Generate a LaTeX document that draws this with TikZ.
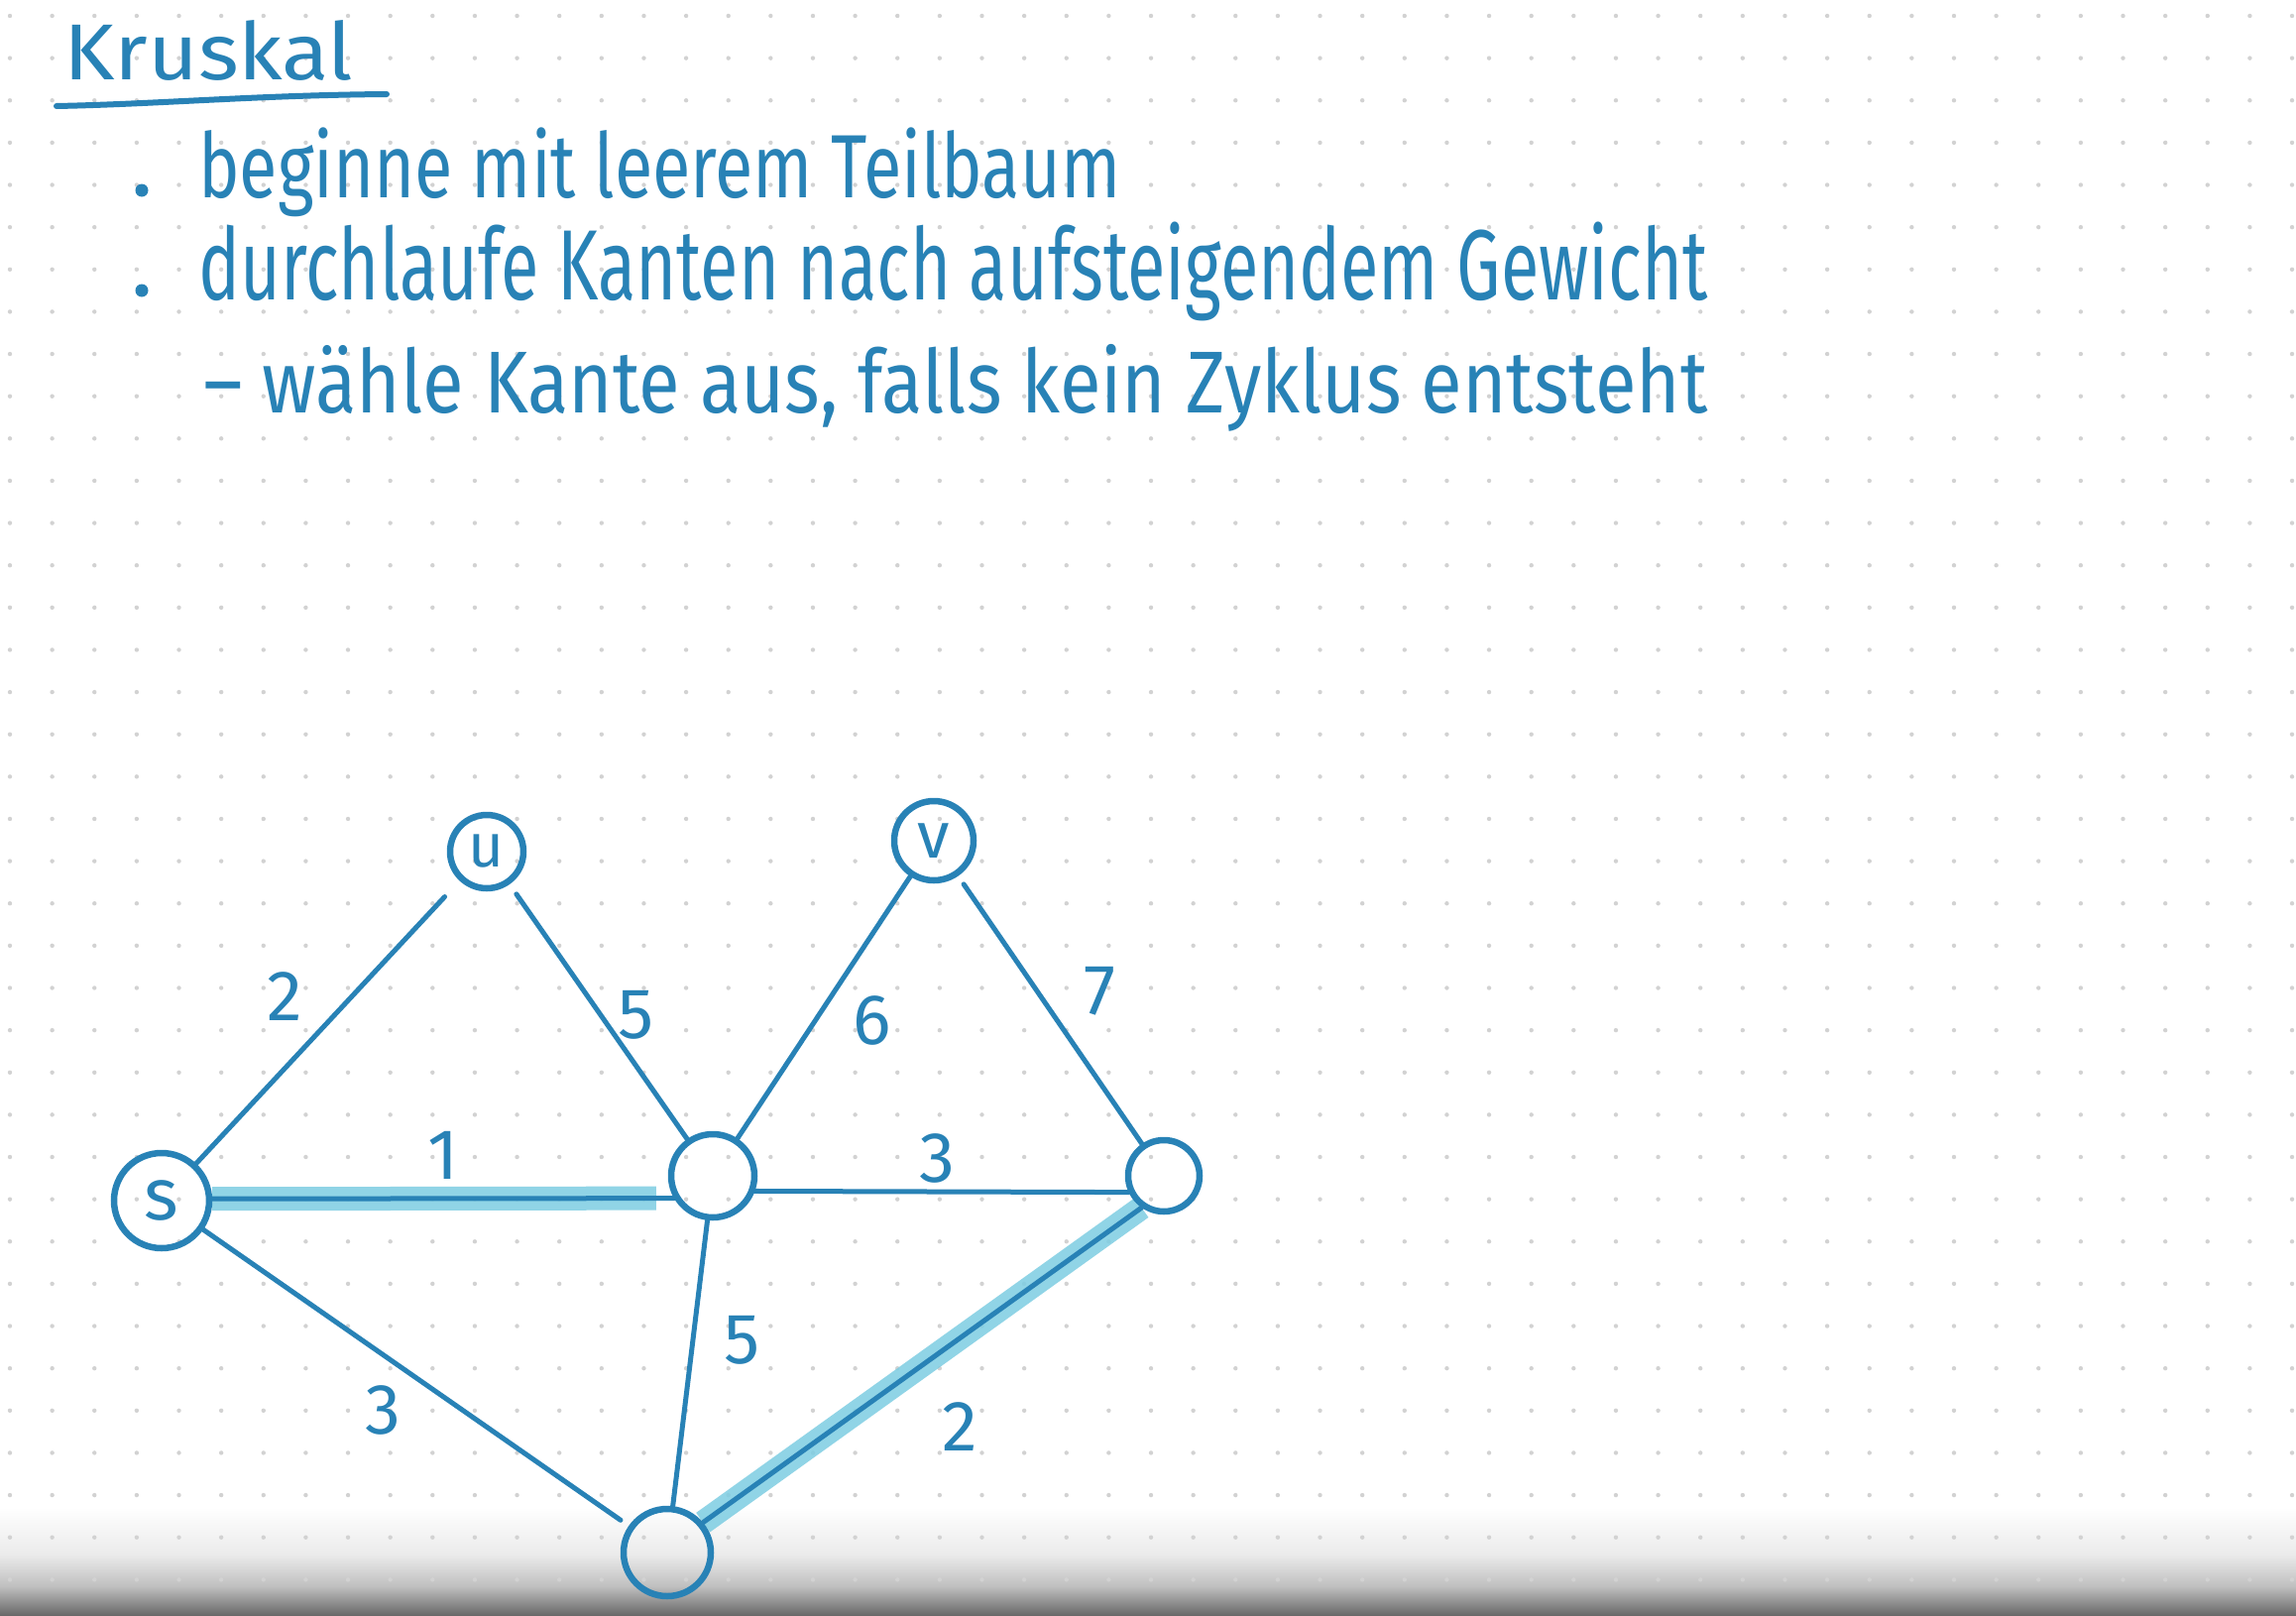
\documentclass[tikz,border=0pt]{standalone}
\usepackage{fontspec}
\setmainfont{Fira Sans}
\usetikzlibrary{calc}
\definecolor{pen}{RGB}{40,130,182}
\definecolor{hl}{RGB}{125,205,226}
\definecolor{dotc}{RGB}{210,210,210}
\pgfdeclarelayer{paper}
\pgfdeclarelayer{bg}
\pgfsetlayers{paper,bg,main}
\begin{document}
\begin{tikzpicture}[x=1pt,y=-1pt,
  vtx/.style={circle,draw=pen,line width=6.5pt,inner sep=0pt,text=pen},
  edge/.style={draw=pen,line width=5pt,line cap=round},
  band/.style={draw=hl,line width=24pt,opacity=0.85},
  wlabel/.style={text=pen,font=\fontsize{72}{72}\selectfont,inner sep=0pt},
  txt/.style={text=pen,anchor=base west,inner sep=0pt}]
\useasboundingbox (0,0) rectangle (2316,1630);
\begin{pgfonlayer}{paper}
\fill[white] (0,0) rectangle (2316,1630);
\shade[top color=white,bottom color=black!8] (0,1520) rectangle (2316,1568);
\shade[top color=black!8,bottom color=black!25] (0,1568) rectangle (2316,1600);
\shade[top color=black!25,bottom color=black!60] (0,1600) rectangle (2316,1630);
\foreach \i in {0,...,54} {\foreach \j in {0,...,37} {\fill[dotc] ({10+42.63*\i},{16+42.63*\j}) circle (2.2);}}
\end{pgfonlayer}

% heading and text
\node[txt] (title) at (64,80) {\resizebox{292pt}{60pt}{Kruskal}};
\draw[pen,line width=6pt,line cap=round] (57,107) .. controls (160,105) and (260,96) .. (390,95);
\fill[pen] (143,192) circle (6.5);
\node[txt] (t1) at (200,199) {\resizebox*{930pt}{90pt}{beginne mit leerem Teilbaum}};
\fill[pen] (143,293) circle (6.5);
\node[txt] (t2) at (200,302) {\resizebox*{1522pt}{100pt}{durchlaufe Kanten nach aufsteigendem Gewicht}};
\node[txt] (t3) at (205,416) {\resizebox*{1517pt}{88pt}{– wähle Kante aus, falls kein Zyklus entsteht}};

% vertices
\node[vtx,minimum size=96pt,font=\fontsize{74}{74}\selectfont] (s) at (163,1211) {s};
\node[vtx,minimum size=74pt,font=\fontsize{62}{62}\selectfont] (u) at (491,859) {u};
\node[vtx,minimum size=84pt] (c) at (719,1186) {};
\node[vtx,minimum size=80pt,font=\fontsize{66}{66}\selectfont] (v) at (942,848) {v};
\node[vtx,minimum size=72pt] (r) at (1174,1186) {};
\node[vtx,minimum size=88pt] (b) at (673,1566) {};

\begin{pgfonlayer}{bg}
\draw[band,shorten >=18pt] (s.2) -- (c.210);
\draw[band] (r.235) -- (b.40);
\draw[edge,shorten >=22pt] (s) -- (u);
\draw[edge,shorten <=12pt] (u) -- (c);
\draw[edge] (s.2) -- (c.210);
\draw[edge] (c) -- (v);
\draw[edge,shorten <=10pt] (v) -- (r);
\draw[edge] (c.340) -- (r.205);
\draw[edge,shorten >=10pt] (s) -- (b);
\draw[edge] (c) -- (b);
\draw[edge] (r.235) -- (b.40);
\end{pgfonlayer}

% weights
\node[wlabel] (w1) at (287,1005) {2};
\node[wlabel] (w2) at (642,1024) {5};
\node[wlabel] (w3) at (447,1165) {1};
\node[wlabel] (w4) at (880,1029) {6};
\node[wlabel] (w5) at (1109,1000) {7};
\node[wlabel] (w6) at (945,1168) {3};
\node[wlabel] (w7) at (386,1422) {3};
\node[wlabel] (w8) at (749,1352) {5};
\node[wlabel] (w9) at (968,1439) {2};
\end{tikzpicture}
\end{document}
